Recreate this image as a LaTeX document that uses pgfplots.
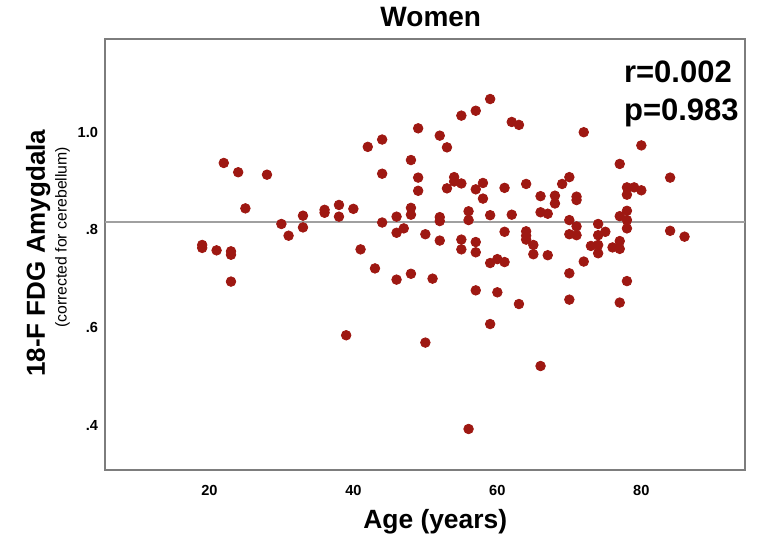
\documentclass[border=0pt]{standalone}
\usepackage{fontspec}
\setmainfont{Liberation Sans}
\usepackage{pgfplots}
\usepackage{pgfplotstable}
\pgfplotsset{compat=1.18}
\usetikzlibrary{calc}
\definecolor{dotred}{RGB}{158,24,18}
\definecolor{framegray}{RGB}{125,125,125}
\definecolor{refgray}{RGB}{160,160,160}

% age, amygdala uptake
\pgfplotstableread{
x y
19 0.769
19 0.763
21 0.758
22 0.937
23 0.756
23 0.749
23 0.694
24 0.918
25 0.844
28 0.913
30 0.812
31 0.788
33 0.829
33 0.805
36 0.841
36 0.835
38 0.851
38 0.827
39 0.584
40 0.843
41 0.760
42 0.970
43 0.721
44 0.985
44 0.915
44 0.815
46 0.827
46 0.794
46 0.698
47 0.803
48 0.943
48 0.845
48 0.831
48 0.710
49 1.008
49 0.907
49 0.880
50 0.791
50 0.569
51 0.700
52 0.993
52 0.826
52 0.818
52 0.778
53 0.969
53 0.885
54 0.908
54 0.899
55 1.034
55 0.895
55 0.780
55 0.760
56 0.838
56 0.820
56 0.392
57 1.044
57 0.883
57 0.775
57 0.754
57 0.676
58 0.896
58 0.864
59 1.068
59 0.830
59 0.732
59 0.607
60 0.740
60 0.672
61 0.886
61 0.796
61 0.734
62 1.021
62 0.831
63 1.015
63 0.648
64 0.894
64 0.797
64 0.788
64 0.780
65 0.769
65 0.750
66 0.869
66 0.836
66 0.521
67 0.833
67 0.748
68 0.870
68 0.854
69 0.894
70 0.908
70 0.820
70 0.791
70 0.711
70 0.657
71 0.868
71 0.861
71 0.807
71 0.789
72 1.000
72 0.735
73 0.767
74 0.812
74 0.789
74 0.769
74 0.752
75 0.796
76 0.764
77 0.935
77 0.828
77 0.777
77 0.761
77 0.651
78 0.887
78 0.872
78 0.839
78 0.820
78 0.803
78 0.695
79 0.887
80 0.881
80 0.973
84 0.907
84 0.798
86 0.786
}\women

\begin{document}
\begin{tikzpicture}
\begin{axis}[
  name=ax,
  scale only axis,
  width=320pt, height=215.5pt,
  xmin=5.5, xmax=94.4,
  ymin=0.308, ymax=1.191,
  clip=false,
  axis line style={draw=framegray, line width=0.9pt},
  major tick length=0pt,
  xtick={20,40,60,80},
  xticklabels={20,40,60,80},
  ytick={0.4,0.6,0.8,1.0},
  yticklabels={.4,.6,.8,1.0},
  tick label style={font=\fontsize{7.3pt}{8pt}\selectfont\bfseries},
  xticklabel style={yshift=-4.1pt},
  title={Women},
  title style={at={(rel axis cs:0.509,1)}, anchor=base,
    font=\fontsize{14pt}{16pt}\selectfont\bfseries},
  xlabel={Age (years)},
  xlabel style={at={(rel axis cs:0.516,-0.1349)}, anchor=base,
    font=\fontsize{13.2pt}{15pt}\selectfont\bfseries},
  ylabel={18-F FDG Amygdala},
  ylabel style={at={(rel axis cs:-0.0938,0.503)}, anchor=base, rotate=0,
    font=\fontsize{13pt}{15pt}\selectfont\bfseries},
]
\addplot[refgray, line width=0.7pt] coordinates {(5.5,0.8164) (94.4,0.8164)};
\addplot[only marks, mark=*, mark size=2.4pt,
  mark options={fill=dotred, draw=dotred}] table[x=x, y=y] {\women};
\node[rotate=90, anchor=base, font=\fontsize{7.9pt}{9pt}\selectfont]
  at (rel axis cs:-0.0598,0.540) {(corrected for cerebellum)};
\node[anchor=base west, font=\fontsize{15.5pt}{17pt}\selectfont\bfseries]
  at (rel axis cs:0.8,0.9) {r=0.002};
\node[anchor=base west, font=\fontsize{15.5pt}{17pt}\selectfont\bfseries]
  at (rel axis cs:0.8,0.8116) {p=0.983};
\end{axis}
\pgfresetboundingbox
\path[use as bounding box] ($(ax.south west)+(-52.5pt,-33.5pt)$) rectangle ($(ax.north east)+(8pt,19.5pt)$);
\end{tikzpicture}
\end{document}
